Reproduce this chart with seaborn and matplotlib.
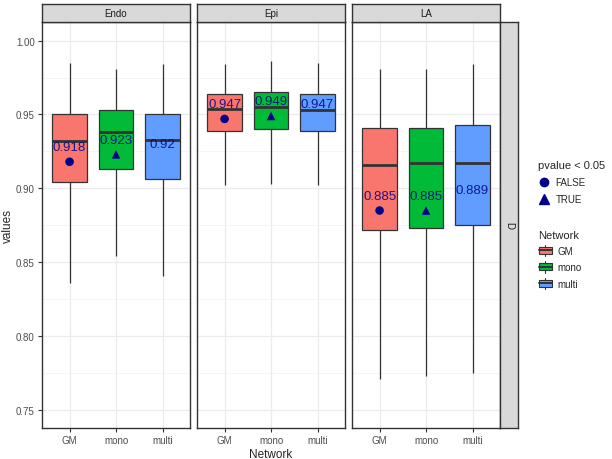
import numpy as np
import pandas as pd
import matplotlib
matplotlib.use('Agg')
import matplotlib.pyplot as plt
import seaborn as sns
from matplotlib.legend_handler import HandlerBase
from matplotlib.patches import Patch, Rectangle
from matplotlib.lines import Line2D

regions = ['Endo', 'Epi', 'LA']
networks = ['GM', 'mono', 'multi']

# five-number summaries: Endo GM/mono/multi, Epi ..., LA ...
whisker_low = [0.836, 0.854, 0.841, 0.902, 0.903, 0.902, 0.771, 0.773, 0.775]
q1 = [0.904, 0.913, 0.906, 0.939, 0.940, 0.939, 0.872, 0.873, 0.875]
median = [0.932, 0.938, 0.933, 0.954, 0.955, 0.953, 0.916, 0.917, 0.917]
q3 = [0.950, 0.953, 0.950, 0.964, 0.965, 0.964, 0.941, 0.941, 0.943]
whisker_high = [0.985, 0.981, 0.984, 0.984, 0.986, 0.985, 0.981, 0.981, 0.984]

mean_values = [0.918, 0.923, 0.92, 0.947, 0.949, 0.947, 0.885, 0.885, 0.889]
pvalue_flag = ['FALSE', 'TRUE', None, 'FALSE', 'TRUE', None, 'FALSE', 'TRUE', None]

palette = {'GM': '#F8766D', 'mono': '#00BA38', 'multi': '#619CFF'}
point_color = '#00008B'


def build_frames():
    rows = []
    means = []
    for i in range(len(median)):
        region = regions[i // 3]
        net = networks[i % 3]
        # with five values the 25/50/75 percentiles land exactly on q1/median/q3
        for v in (whisker_low[i], q1[i], median[i], q3[i], whisker_high[i]):
            rows.append({'region': region, 'Network': net, 'values': v})
        means.append({'region': region, 'Network': net,
                      'mean': mean_values[i], 'pvalue': pvalue_flag[i]})
    return pd.DataFrame(rows), pd.DataFrame(means)


class BoxKeyHandler(HandlerBase):
    # ggplot-like boxplot legend key
    def create_artists(self, legend, orig_handle, xdescent, ydescent,
                       width, height, fontsize, trans):
        x0, y0 = -xdescent, -ydescent
        cx = x0 + width / 2
        box = Rectangle((x0 + 0.05 * width, y0 + 0.2 * height), 0.9 * width, 0.6 * height,
                        facecolor=orig_handle.get_facecolor(), edgecolor='#333333',
                        linewidth=0.8, transform=trans)
        med = Line2D([x0 + 0.05 * width, x0 + 0.95 * width], [y0 + height / 2] * 2,
                     color='#333333', linewidth=1.4, transform=trans)
        top = Line2D([cx, cx], [y0 + 0.8 * height, y0 + 1.0 * height],
                     color='#333333', linewidth=0.8, transform=trans)
        bot = Line2D([cx, cx], [y0, y0 + 0.2 * height],
                     color='#333333', linewidth=0.8, transform=trans)
        return [box, med, top, bot]


box_df, mean_df = build_frames()

sns.set_style('white')
plt.rcParams['font.family'] = ['Liberation Sans', 'DejaVu Sans']

fig = plt.figure(figsize=(6.12, 4.6), dpi=100)

panel_lefts = [41.7 / 612, 196.7 / 612, 351.7 / 612]
panel_w = 148.7 / 612
panel_b = (460 - 429) / 460
panel_h = 406.3 / 460
strip_h = 18 / 460

for j, region in enumerate(regions):
    ax = fig.add_axes([panel_lefts[j], panel_b, panel_w, panel_h])
    sub = box_df[box_df['region'] == region]
    sns.boxplot(data=sub, x='Network', y='values', hue='Network',
                order=networks, hue_order=networks, palette=palette,
                saturation=1, width=0.75, whis=(0, 100), showcaps=False,
                linecolor='#333333', linewidth=0.9,
                medianprops={'linewidth': 2.0, 'color': '#333333'},
                legend=False, ax=ax)

    msub = mean_df[(mean_df['region'] == region) & mean_df['pvalue'].notna()]
    sns.scatterplot(data=msub, x='Network', y='mean', style='pvalue',
                    style_order=['FALSE', 'TRUE'], markers={'FALSE': 'o', 'TRUE': '^'},
                    color=point_color, s=38, linewidth=0, legend=False, ax=ax, zorder=4)

    for _, r in mean_df[mean_df['region'] == region].iterrows():
        ax.text(r['Network'], r['mean'] + 0.01, f"{round(r['mean'], 3):g}",
                ha='center', va='center', color=point_color, alpha=0.85,
                fontsize=9.5, zorder=5)

    ax.set_xlim(-0.6, 2.6)
    ax.set_ylim(0.7378, 1.0128)
    ax.set_yticks([0.75, 0.80, 0.85, 0.90, 0.95, 1.00])
    ax.set_yticks(np.arange(0.775, 1.0, 0.05), minor=True)
    ax.set_yticklabels(['0.75', '0.80', '0.85', '0.90', '0.95', '1.00'])
    ax.grid(which='major', color='#EBEBEB', linewidth=0.9)
    ax.grid(which='minor', axis='y', color='#F2F2F2', linewidth=0.5)
    ax.set_axisbelow(True)
    for s in ax.spines.values():
        s.set_color('#333333')
        s.set_linewidth(1.0)
    ax.tick_params(axis='both', which='major', direction='out', length=3, width=0.8,
                   color='#333333', labelcolor='#4D4D4D', labelsize=7, pad=2,
                   bottom=True, left=True)
    ax.tick_params(axis='y', which='minor', left=False)
    ax.set_xlabel('')
    ax.set_ylabel('')
    if j > 0:
        ax.tick_params(axis='y', left=False, labelleft=False)
    if j == 1:
        ax.set_xlabel('Network', fontsize=8.5, labelpad=2)

    # facet strip on top
    sax = fig.add_axes([panel_lefts[j], panel_b + panel_h, panel_w, strip_h])
    sax.set_facecolor('#D9D9D9')
    sax.set_xticks([])
    sax.set_yticks([])
    for s in sax.spines.values():
        s.set_color('#333333')
        s.set_linewidth(1.0)
    sax.text(0.5, 0.5, region, ha='center', va='center', fontsize=7,
             color='#1A1A1A', transform=sax.transAxes)

fig.text(8 / 612, 1 - 226 / 460, 'values', rotation=90, ha='center', va='center',
         fontsize=8.5)

# row strip on the right
rax = fig.add_axes([500.3 / 612, panel_b, 18 / 612, panel_h])
rax.set_facecolor('#D9D9D9')
rax.set_xticks([])
rax.set_yticks([])
for s in rax.spines.values():
    s.set_color('#333333')
    s.set_linewidth(1.0)
rax.text(0.5, 0.5, 'D', ha='center', va='center', rotation=270, fontsize=7,
         color='#1A1A1A', transform=rax.transAxes)

# legends
p_handles = [Line2D([], [], marker='o', ls='', color=point_color, markersize=6),
             Line2D([], [], marker='^', ls='', color=point_color, markersize=6.5)]
leg1 = fig.legend(p_handles, ['FALSE', 'TRUE'], title='pvalue < 0.05',
                  loc='upper left', bbox_to_anchor=(533 / 612, 1 - 156 / 460),
                  frameon=False, fontsize=7, title_fontsize=8, alignment='left',
                  handlelength=1.2, handletextpad=0.6, labelspacing=0.75, borderpad=0)

n_handles = [Patch(facecolor=palette[n]) for n in networks]
leg2 = fig.legend(n_handles, networks, title='Network',
                  loc='upper left', bbox_to_anchor=(533 / 612, 1 - 226 / 460),
                  frameon=False, fontsize=7, title_fontsize=8, alignment='left',
                  handler_map={Patch: BoxKeyHandler()},
                  handlelength=1.5, handleheight=1.45, handletextpad=0.5,
                  labelspacing=0.5, borderpad=0)

fig.savefig('out.png', dpi=100)
